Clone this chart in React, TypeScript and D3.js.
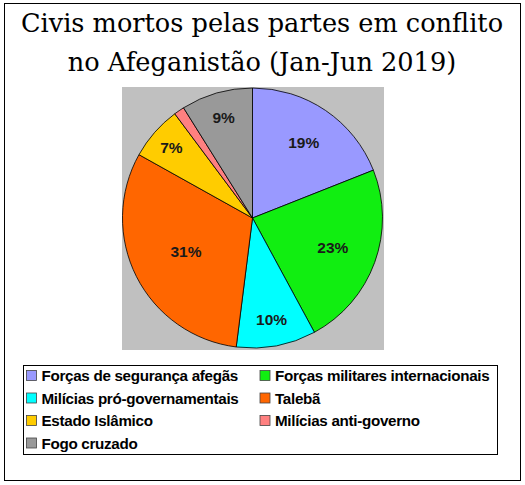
import React from "react";
import * as d3 from "d3";

const categories = [
  "Forças de segurança afegãs",
  "Forças militares internacionais",
  "Milícias pró-governamentais",
  "Talebã",
  "Estado Islâmico",
  "Milícias anti-governo",
  "Fogo cruzado",
];
const shares = [19.0, 23.1, 9.9, 31.1, 6.7, 1.3, 8.9];
const colors = ["#9999ff", "#11ee11", "#00ffff", "#ff6600", "#ffcc00", "#ff8080", "#999999"];
const titleLines = ["Civis mortos pelas partes em conflito", "no Afeganistão (Jan-Jun 2019)"];

const W = 525;
const H = 485;

const App: React.FC = () => {
  const cx = 252.5;
  const cy = 218;
  const r = 130;

  const data = categories.map((c, i) => ({ category: c, value: shares[i], color: colors[i] }));
  const total = d3.sum(shares);

  const pie = d3
    .pie<{ category: string; value: number; color: string }>()
    .sort(null)
    .value((d) => d.value);
  const arcs = pie(data);
  const arc = d3
    .arc<d3.PieArcDatum<{ category: string; value: number; color: string }>>()
    .innerRadius(0)
    .outerRadius(r);

  const pct = (v: number) => `${Math.round((v / total) * 100)}%`;

  // legend: two columns, filled row by row
  const legendX = 23.5;
  const legendY = 365.5;
  const colX = [26.5, 260];
  const rowY = d3.range(4).map((i) => 376 + i * 22.5);

  return (
    <svg
      width={W}
      height={H}
      style={{ position: "absolute", left: 0, top: 0, background: "#fff" }}
      fontFamily="'Liberation Sans', Arial, sans-serif"
    >
      <rect x={4.5} y={3.5} width={516} height={477} fill="#fff" stroke="#000" strokeWidth={1} />

      {titleLines.map((t, i) => (
        <text
          key={i}
          x={262}
          y={32 + i * 39}
          textAnchor="middle"
          fontFamily="'DejaVu Serif', serif"
          fontSize={25.6}
          fill="#000"
        >
          {t}
        </text>
      ))}

      <rect x={122} y={87} width={262} height={263} fill="#c0c0c0" />

      <g transform={`translate(${cx},${cy})`}>
        {arcs.map((a, i) => (
          <path key={i} d={arc(a) ?? ""} fill={a.data.color} stroke="#000" strokeWidth={0.8} />
        ))}
        {arcs.map((a, i) => {
          const frac = a.data.value / total;
          if (frac < 0.02) return null;
          const lr = r * (0.9 - frac * 1.05);
          const mid = (a.startAngle + a.endAngle) / 2;
          const x = Math.sin(mid) * lr;
          const y = -Math.cos(mid) * lr;
          return (
            <text
              key={i}
              x={x}
              y={y}
              dy="0.36em"
              textAnchor="middle"
              fontSize={15.5}
              fontWeight="bold"
              fill="#1a1a1a"
            >
              {pct(a.data.value)}
            </text>
          );
        })}
      </g>

      <rect x={legendX} y={legendY} width={474} height={89} fill="#fff" stroke="#000" strokeWidth={1} />
      {data.map((d, i) => {
        const x = colX[i % 2];
        const y = rowY[Math.floor(i / 2)];
        return (
          <g key={i}>
            <rect x={x} y={y - 5.5} width={10} height={10} fill={d.color} stroke="#444" strokeWidth={0.8} />
            <text x={x + 15} y={y} dy="0.35em" fontSize={15.2} fontWeight="bold" fill="#000" letterSpacing={-0.3}>
              {d.category}
            </text>
          </g>
        );
      })}
    </svg>
  );
};

export default App;
